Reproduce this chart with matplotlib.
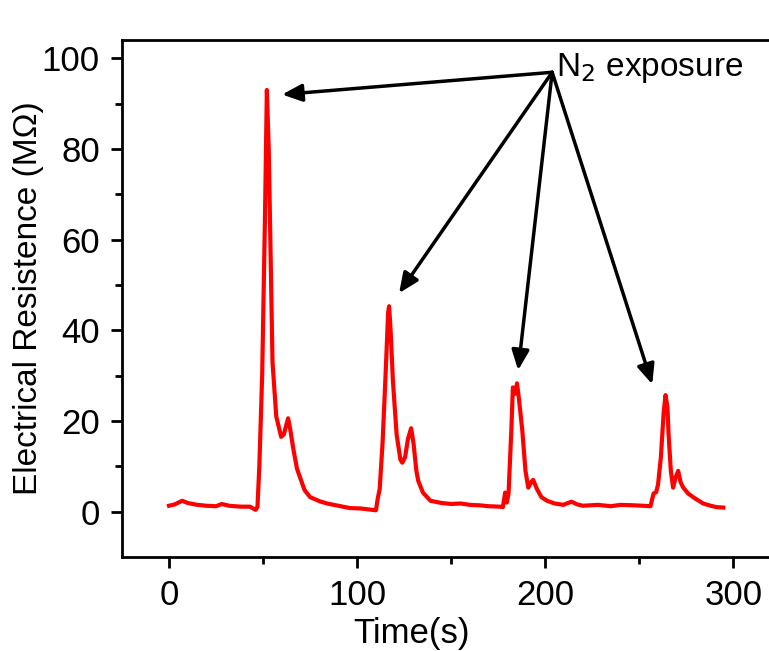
import matplotlib
matplotlib.use("Agg")
import matplotlib.pyplot as plt
from matplotlib.ticker import MultipleLocator

plt.rcParams['font.family'] = ['Liberation Sans', 'DejaVu Sans']

# time (s) and resistance (MOhm)
time_s = [0, 3, 7, 10, 15, 20, 25, 28, 32, 38, 43, 46, 47, 48, 49.5, 51, 52, 53, 55, 57,
          59.6, 61, 63.3, 64.5, 66, 68, 69.7, 72, 75, 80, 84, 90, 96, 102, 106, 110,
          111, 112, 113.5, 115, 116.5, 117, 117.8, 119, 121, 123, 124, 125.5, 127, 128.7,
          130, 131.5, 132.5, 135, 139, 145, 150, 155, 160, 165, 170, 176, 177.5, 178.7,
          179.6, 180.5, 182, 182.8, 184, 185, 186, 187.8, 189.5, 191, 192.5, 193.6, 195.6,
          198, 201, 205, 209.6, 214, 217, 220, 228, 235, 240, 247, 252, 256, 257, 257.6,
          259, 260, 261.5, 263, 264, 265, 265.6, 266.8, 268, 269.3, 270.7, 272, 273.4,
          276, 279, 284, 288, 291, 294.7]
resistance = [1.3, 1.6, 2.4, 1.9, 1.5, 1.3, 1.2, 1.7, 1.3, 1.1, 1.1, 0.4, 1.0, 10, 30, 65, 93, 80, 33, 21,
              16.5, 17, 20.6, 18, 14, 9.5, 7.5, 4.8, 3.2, 2.3, 1.8, 1.3, 0.8, 0.7, 0.5, 0.3,
              3, 5, 15, 29, 44, 45.3, 40, 29, 17, 11.5, 10.8, 12, 16, 18.4,
              15, 9, 6.8, 4.2, 2.4, 1.9, 1.7, 1.8, 1.5, 1.4, 1.2, 1.1, 1.0, 4.2,
              2, 4, 18, 27.4, 26, 28.3, 25, 18, 9, 5.3, 6.5, 7, 5,
              3.2, 2.4, 1.8, 1.5, 2.2, 1.6, 1.3, 1.5, 1.2, 1.5, 1.4, 1.3, 1.2, 3, 4,
              4.3, 6, 12, 22, 25.7, 23, 17, 9, 5.3, 7.5, 9, 6.5, 5.3,
              4, 3.1, 1.8, 1.3, 1.0, 0.9]

label_text = "N$_2$ exposure"
label_origin = (203.7, 96.9)
arrow_tips = [(60.1, 92.0), (122.3, 48.2), (185.6, 31.2), (256.9, 28.1)]

fig = plt.figure(figsize=(7.69, 6.51), dpi=100)
ax = fig.add_axes([0.1587, 0.1444, 0.856, 0.794])

ax.plot(time_s, resistance, color='#ff0000', lw=3)

for tip in arrow_tips:
    ax.annotate("", xy=tip, xytext=label_origin,
                arrowprops=dict(arrowstyle='-|>,head_length=0.5,head_width=0.22',
                                color='k', lw=2.5,
                                mutation_scale=24, shrinkA=0, shrinkB=0))
ax.text(206.0, 96.0, label_text, fontsize=24, ha='left', va='baseline')

ax.set_xlim(-25, 325)
ax.set_ylim(-10, 104)
ax.xaxis.set_major_locator(MultipleLocator(100))
ax.xaxis.set_minor_locator(MultipleLocator(50))
ax.set_yticks([0, 20, 40, 60, 80, 100])
ax.set_yticks([10, 30, 50, 70, 90], minor=True)

for sp in ax.spines.values():
    sp.set_linewidth(2)
ax.tick_params(which='major', length=8, width=2, labelsize=25, pad=8)
ax.tick_params(which='minor', length=5, width=2)

ax.set_xlabel("Time(s)", fontsize=25)
ax.xaxis.set_label_coords(0.44, -0.117)
ax.set_ylabel("Electrical Resistence (M\u03a9)", fontsize=24)
ax.yaxis.set_label_coords(-0.118, 0.5)

fig.savefig("out.png", dpi=100)
